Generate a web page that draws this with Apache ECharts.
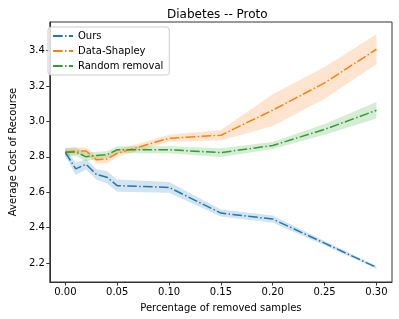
<!DOCTYPE html>
<html><head><meta charset="utf-8">
<script src="https://cdn.jsdelivr.net/npm/echarts@6/dist/echarts.min.js"></script>
<style>html,body{margin:0;padding:0;background:#fff}#c{width:399px;height:319px}</style>
</head><body><div id="c"></div>
<script>
const xs = [0, 0.01, 0.02, 0.03, 0.04, 0.05, 0.10, 0.15, 0.20, 0.25, 0.30];
const ours = [2.825, 2.732, 2.758, 2.700, 2.685, 2.637, 2.627, 2.482, 2.448, 2.312, 2.175];
const oursErr = [0.02, 0.035, 0.03, 0.03, 0.035, 0.035, 0.03, 0.02, 0.02, 0.012, 0.008];
const shapley = [2.828, 2.832, 2.833, 2.783, 2.787, 2.820, 2.905, 2.922, 3.064, 3.218, 3.408];
const shapleyErr = [0.02, 0.02, 0.02, 0.02, 0.025, 0.02, 0.02, 0.03, 0.09, 0.09, 0.085];
const randomRem = [2.826, 2.828, 2.800, 2.808, 2.812, 2.840, 2.840, 2.824, 2.864, 2.955, 3.063];
const randomErr = [0.025, 0.025, 0.025, 0.02, 0.02, 0.02, 0.02, 0.025, 0.02, 0.03, 0.047];
const xTicks = [0, 0.05, 0.10, 0.15, 0.20, 0.25, 0.30];
const yTicks = [2.2, 2.4, 2.6, 2.8, 3.0, 3.2, 3.4];
const names = ['Ours', 'Data-Shapley', 'Random removal'];
const colors = ['#1f77b4', '#ff7f0e', '#2ca02c'];
const means = [ours, shapley, randomRem];
const errs = [oursErr, shapleyErr, randomErr];

const series = [];
means.forEach((m, i) => {
  const e = errs[i];
  const band = xs.map((x, k) => [x, m[k] - e[k], m[k] + e[k]]);
  series.push({
    name: 'band' + i, type: 'custom', silent: true, z: 1,
    data: band,
    encode: {x: 0, y: [1, 2]},
    renderItem: function (params, api) {
      if (params.dataIndex !== 0) return null;
      const upper = band.map(d => api.coord([d[0], d[2]]));
      const lower = band.map(d => api.coord([d[0], d[1]])).reverse();
      return {
        type: 'polygon',
        shape: {points: upper.concat(lower)},
        style: {fill: colors[i], opacity: 0.2}
      };
    }
  });
});
means.forEach((m, i) => {
  series.push({
    name: names[i], type: 'line', symbol: 'none',
    data: xs.map((x, k) => [x, m[k]]),
    lineStyle: {color: colors[i], width: 1.5, type: [9.6, 2.4, 1.5, 2.4]},
    itemStyle: {color: colors[i]}, z: 3
  });
});

const chart = echarts.init(document.getElementById('c'), null, {renderer: 'canvas'});
chart.setOption({
  animation: false,
  backgroundColor: '#fff',
  title: {text: 'Diabetes -- Proto', left: 162, top: 4,
    textStyle: {fontFamily: 'DejaVu Sans', fontSize: 12, fontWeight: 'normal', color: '#000'}},
  grid: {left: 43, right: 7, top: 22, bottom: 37, show: true, borderColor: '#333', borderWidth: 1},
  legend: {
    data: names, orient: 'vertical', left: 48, top: 27,
    itemWidth: 20, itemHeight: 8, itemGap: 5,
    padding: [4, 6, 4, 4],
    itemStyle: {opacity: 0},
    borderColor: '#ccc', borderWidth: 1, borderRadius: 3, backgroundColor: 'rgba(255,255,255,0.8)',
    textStyle: {fontFamily: 'DejaVu Sans', fontSize: 10, color: '#000'}
  },
  xAxis: {
    type: 'value', min: -0.015, max: 0.315,
    name: 'Percentage of removed samples', nameLocation: 'middle', nameGap: 21,
    nameTextStyle: {fontFamily: 'DejaVu Sans', fontSize: 10, color: '#000'},
    axisLine: {onZero: false, lineStyle: {color: '#333'}},
    axisTick: {show: true, length: 3.5, customValues: xTicks, lineStyle: {color: '#333'}},
    axisLabel: {customValues: xTicks, formatter: v => v.toFixed(2), margin: 5,
      fontFamily: 'DejaVu Sans', fontSize: 10, color: '#000'},
    splitLine: {show: false}
  },
  yAxis: {
    type: 'value', min: 2.0925, max: 3.562,
    name: 'Average Cost of Recourse', nameLocation: 'middle', nameGap: 28,
    nameTextStyle: {fontFamily: 'DejaVu Sans', fontSize: 10, color: '#000'},
    axisLine: {show: true, onZero: false, lineStyle: {color: '#333'}},
    axisTick: {show: true, length: 3.5, customValues: yTicks, lineStyle: {color: '#333'}},
    axisLabel: {customValues: yTicks, formatter: v => v.toFixed(1), margin: 5,
      fontFamily: 'DejaVu Sans', fontSize: 10, color: '#000'},
    splitLine: {show: false}
  },
  series: series
});
</script></body></html>
